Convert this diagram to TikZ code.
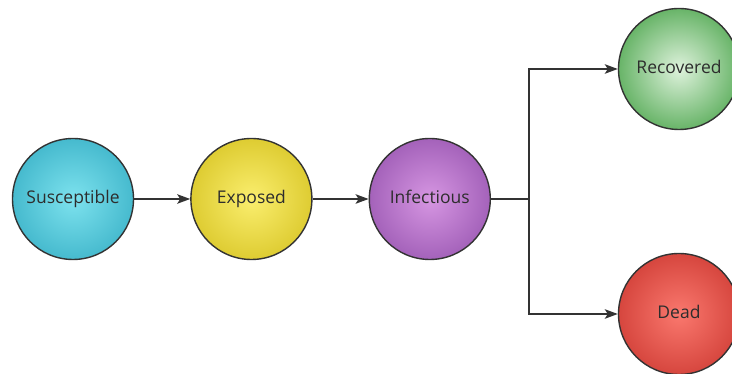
\documentclass[tikz,border=0pt]{standalone}
\usepackage{fontspec}
\setmainfont{Open Sans}
\usetikzlibrary{positioning,arrows.meta}
\definecolor{linegray}{RGB}{51,51,51}
\definecolor{textgray}{RGB}{45,45,45}

\tikzset{
  state/.style={circle, draw=linegray, line width=1.4pt, minimum size=121pt,
    inner sep=0pt, text=textgray, font=\fontsize{17.5}{20}\selectfont,
    text height=2ex, text depth=0.2ex, shading=radial},
  flow/.style={draw=linegray, line width=1.5pt, -{Stealth[length=13pt,width=9.5pt,inset=3pt]}}
}

\begin{document}
\begin{tikzpicture}[x=1pt,y=1pt]
    \clip (0,0) rectangle (732,374);
    \node [state, inner color={rgb,255:red,125;green,226;blue,238}, outer color={rgb,255:red,70;green,186;blue,206}]
      (sus) at (73,175) {Susceptible};
    \node [state, right=56pt of sus, inner color={rgb,255:red,250;green,238;blue,110}, outer color={rgb,255:red,222;green,204;blue,50}]
      (exp) {Exposed};
    \node [state, right=56pt of exp, inner color={rgb,255:red,214;green,150;blue,226}, outer color={rgb,255:red,164;green,98;blue,186}]
      (inf) {Infectious};
    \node [state, inner color={rgb,255:red,222;green,242;blue,220}, outer color={rgb,255:red,104;green,180;blue,104}]
      (rec) at (679,305) {Recovered};
    \node [state, inner color={rgb,255:red,250;green,120;blue,110}, outer color={rgb,255:red,214;green,70;blue,62}]
      (dead) at (679,60) {Dead};
    \coordinate (fork) at (529,175);
    \draw [flow] (sus) -- (exp);
    \draw [flow] (exp) -- (inf);
    \draw [draw=linegray, line width=1.5pt] (inf) -- (fork);
    \draw [flow] (fork) |- (rec);
    \draw [flow] (fork) |- (dead);
\end{tikzpicture}
\end{document}
